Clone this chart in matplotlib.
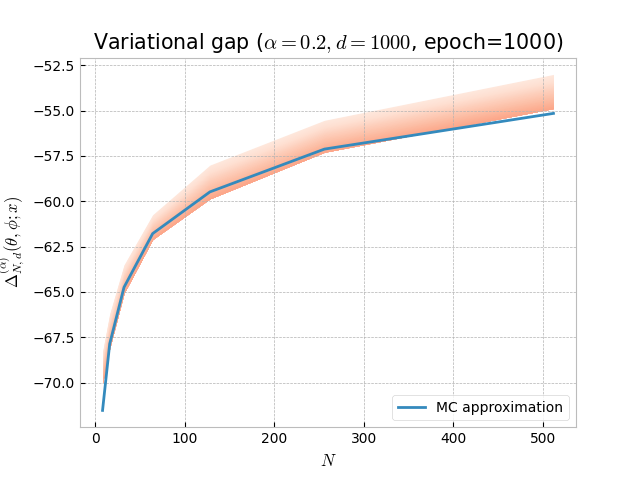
import numpy as np
import matplotlib
matplotlib.use('Agg')
import matplotlib.pyplot as plt

plt.style.use('bmh')

N = [8, 16, 32, 64, 128, 256, 512]
mc_approx = [-71.53, -67.86, -64.74, -61.78, -59.48, -57.12, -55.15]
band_upper = [-68.3, -66.2, -63.5, -60.74, -58.0, -55.53, -53.0]
band_lower = [-70.0, -68.1, -65.07, -62.1, -59.86, -57.29, -54.88]

fig, ax = plt.subplots(figsize=(6.4, 4.8), dpi=100)
ax.set_facecolor('white')

# gradient band: light on top, darker towards the bottom
lo = np.array(band_lower)
hi = np.array(band_upper)
n_layers = 40
cmap = plt.get_cmap('Reds')
for i in range(n_layers):
    f = 1.0 - i / n_layers
    ax.fill_between(N, lo, lo + f * (hi - lo), color=cmap(0.08 + 0.24 * (1 - f)),
                    linewidth=0)

ax.plot(N, mc_approx, color='#348ABD', lw=2, label='MC approximation')

ax.set_title(r'Variational gap ($\alpha=0.2, d=1000$, epoch=1000)', fontsize=14.8)
ax.set_xlabel(r'$N$')
ax.set_ylabel(r'$\Delta^{(\alpha)}_{N,d}(\theta,\phi;x)$')
ax.legend(loc='lower right', facecolor='white')

plt.savefig('out.png', dpi=100)
